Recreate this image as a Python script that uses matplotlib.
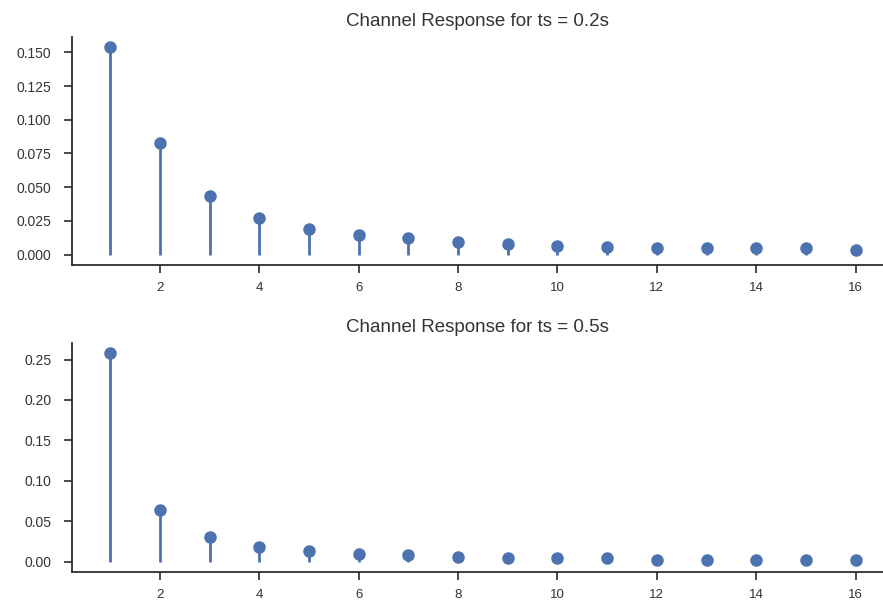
import matplotlib
matplotlib.use('Agg')
import matplotlib.pyplot as plt
import seaborn as sns

# --- DATA ---
n = list(range(1, 17))
resp_02 = [0.1537, 0.0827, 0.0438, 0.0271, 0.0190, 0.0143, 0.0120, 0.0091,
           0.0079, 0.0066, 0.0054, 0.0046, 0.0046, 0.0046, 0.0046, 0.0037]
resp_05 = [0.2580, 0.0640, 0.0300, 0.0179, 0.0125, 0.0096, 0.0079, 0.0058,
           0.0042, 0.0042, 0.0042, 0.0021, 0.0021, 0.0021, 0.0021, 0.0021]
titles = ['Channel Response for ts = 0.2s', 'Channel Response for ts = 0.5s']

sns.set_theme(style='ticks')
plt.rcParams['font.family'] = ['Liberation Sans', 'DejaVu Sans']
cor = sns.color_palette('deep')[0]

fig = plt.figure(figsize=(8.83, 6.04), dpi=100)
ax1 = fig.add_axes([0.0815, 0.5613, 0.9185, 0.3774])
ax2 = fig.add_axes([0.0815, 0.0530, 0.9185, 0.3796])

for ax, valores, titulo in zip([ax1, ax2], [resp_02, resp_05], titles):
    markerline, stemlines, baseline = ax.stem(n, valores, basefmt=' ')
    plt.setp(markerline, color=cor, markersize=8)
    plt.setp(stemlines, color=cor, linewidth=2)
    ax.set_xlim(0.23, 16.55)
    ax.set_xticks([2, 4, 6, 8, 10, 12, 14, 16])
    ax.set_title(titulo, fontsize=13.5, color='#333333', pad=8)
    ax.tick_params(labelsize=10, colors='#333333', length=6)
    ax.tick_params(axis='y', pad=9)
    ax.tick_params(axis='x', pad=6, labelsize=9.5)
    sns.despine(ax=ax)

ax1.set_yticks([0.0, 0.025, 0.05, 0.075, 0.1, 0.125, 0.15])
ax1.set_yticklabels(['0.000', '0.025', '0.050', '0.075', '0.100', '0.125', '0.150'])
ax2.set_yticks([0.0, 0.05, 0.1, 0.15, 0.2, 0.25])
ax2.set_yticklabels(['0.00', '0.05', '0.10', '0.15', '0.20', '0.25'])

fig.savefig('out.png', dpi=100)
